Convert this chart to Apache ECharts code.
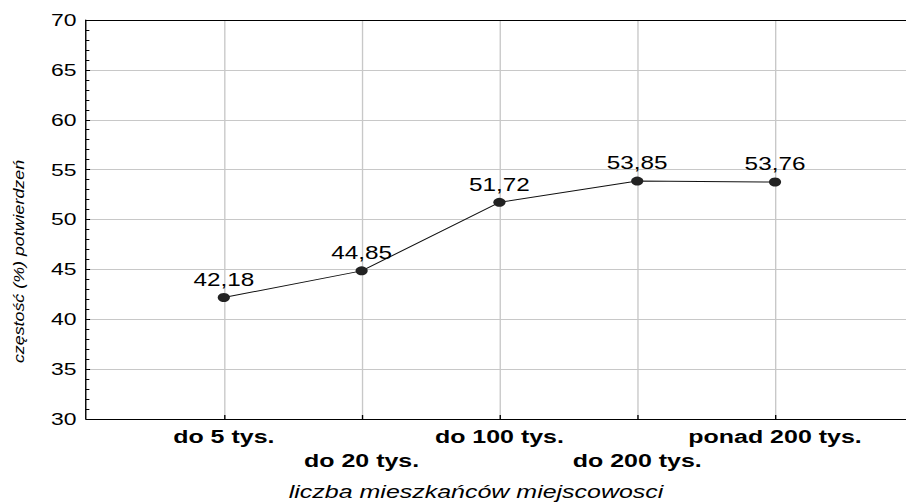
<!DOCTYPE html>
<html>
<head>
<meta charset="utf-8">
<script src="https://cdn.jsdelivr.net/npm/echarts@6/dist/echarts.min.js"></script>
<style>
html,body{margin:0;padding:0;background:#fff;overflow:hidden;}
#wrap{width:906px;height:504px;overflow:hidden;position:relative;}
#c{position:absolute;left:0;top:0;width:760px;height:504px;transform:scaleX(1.3502);transform-origin:0 0;}
</style>
</head>
<body>
<div id="wrap"><div id="c"></div></div>
<script>
const categories = ['do 5 tys.', 'do 20 tys.', 'do 100 tys.', 'do 200 tys.', 'ponad 200 tys.'];
const values = [42.18, 44.85, 51.72, 53.85, 53.76];
const yTicks = [30, 35, 40, 45, 50, 55, 60, 65, 70];
const xTitle = 'liczba mieszkańców miejscowosci';
const yTitle = 'częstość (%) potwierdzeń';

const FONT = "'Liberation Sans', Arial, sans-serif";
const chart = echarts.init(document.getElementById('c'), null, {renderer: 'svg', width: 760, height: 504});

chart.setOption({
  animation: false,
  backgroundColor: '#fff',
  grid: {left: 63.7, top: 20, width: 663.4, height: 399, show: false},
  xAxis: [{
    type: 'value', min: 0, max: 6.5, interval: 1,
    axisLine: {show: true, lineStyle: {color: '#000', width: 1}},
    axisTick: {show: true, inside: true, length: 4, lineStyle: {color: '#000'}},
    splitLine: {show: true, lineStyle: {color: '#c8c8c8', width: 1}},
    axisLabel: {
      margin: 6, color: '#000', fontFamily: FONT, fontWeight: 'bold', fontSize: 18.5, lineHeight: 24,
      showMinLabel: false, showMaxLabel: false,
      formatter: function (v) {
        const i = Math.round(v) - 1;
        if (i < 0 || i >= categories.length) return '';
        return (i % 2 === 1 ? '\n' : '') + categories[i];
      }
    }
  }, {
    type: 'value', position: 'top', min: 0, max: 6.5, interval: 1,
    axisLine: {show: true, onZero: false, lineStyle: {color: '#000', width: 1}},
    axisTick: {show: false}, axisLabel: {show: false}, splitLine: {show: false}
  }],
  yAxis: {
    type: 'value', min: yTicks[0], max: yTicks[yTicks.length - 1], interval: 5,
    axisLine: {show: true, lineStyle: {color: '#000', width: 1}},
    axisTick: {show: true, inside: true, length: 3, lineStyle: {color: '#000'}},
    minorTick: {show: true, splitNumber: 5, length: 2.5, lineStyle: {color: '#000'}},
    splitLine: {show: true, lineStyle: {color: '#c8c8c8', width: 1}},
    axisLabel: {margin: 7, color: '#000', fontFamily: FONT, fontSize: 17}
  },
  series: [{
    type: 'line',
    xAxisIndex: 0,
    data: values.map((v, i) => [i + 1, v]),
    symbol: 'circle', symbolSize: 9,
    itemStyle: {color: '#222'},
    lineStyle: {color: '#111', width: 1},
    label: {
      show: true, position: 'top', distance: 4, color: '#000', fontFamily: FONT, fontSize: 18,
      formatter: p => p.value[1].toFixed(2).replace('.', ',')
    }
  }],
  graphic: [
    {type: 'text', x: 352.6, y: 492, style: {text: xTitle, font: 'italic 18.5px ' + FONT, fill: '#000', textAlign: 'center', textVerticalAlign: 'middle'}},
    {type: 'text', x: 13.5, y: 261.5, rotation: Math.PI / 2, scaleX: 1.7, style: {text: yTitle, font: 'italic 10.5px ' + FONT, fill: '#000', textAlign: 'center', textVerticalAlign: 'middle'}}
  ]
});
</script>
</body>
</html>
